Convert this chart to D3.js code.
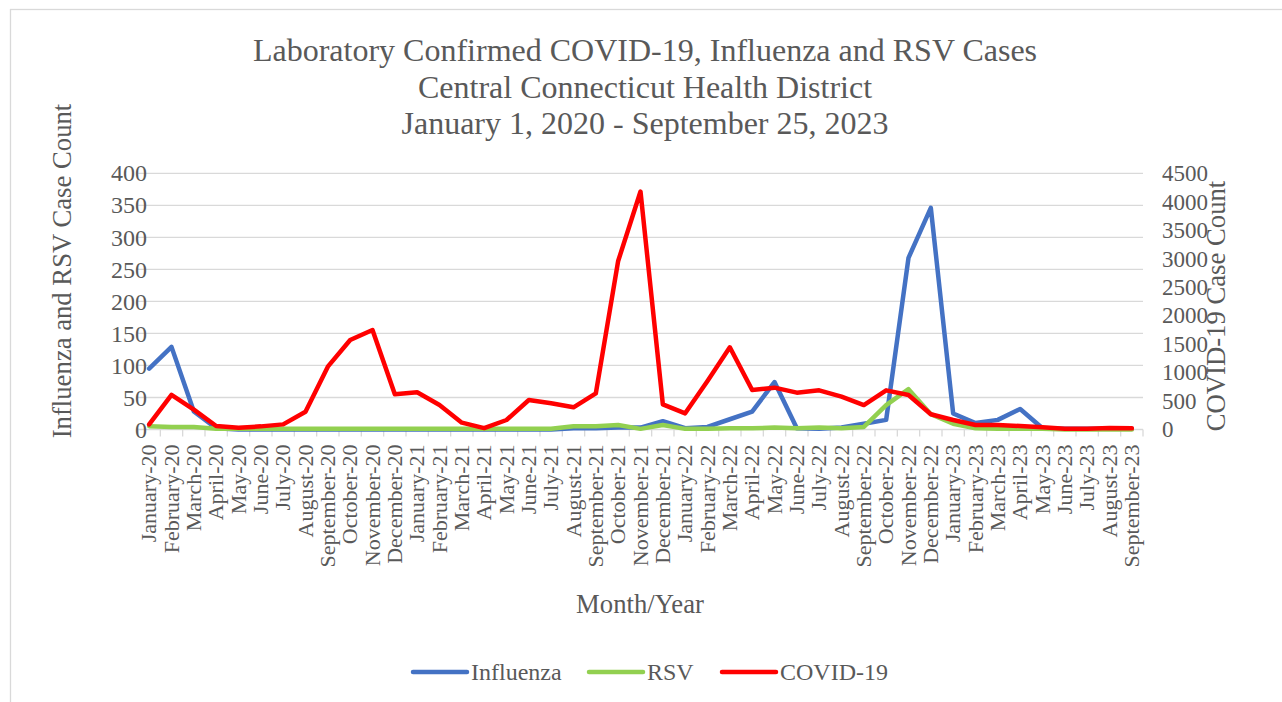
<!DOCTYPE html>
<html>
<head>
<meta charset="utf-8">
<script src="https://cdn.jsdelivr.net/npm/d3@7"></script>
<style>
  body { margin: 0; background: #fff; }
  svg text { font-family: "Liberation Serif", "Times New Roman", serif; fill: #595959; }
</style>
</head>
<body>
<svg id="chart" width="1282" height="702" font-family="Liberation Serif, Times New Roman, serif"></svg>
<script>
const months = [
  'January-20', 'February-20', 'March-20', 'April-20', 'May-20', 'June-20', 'July-20', 'August-20',
  'September-20', 'October-20', 'November-20', 'December-20',
  'January-21', 'February-21', 'March-21', 'April-21', 'May-21', 'June-21', 'July-21', 'August-21',
  'September-21', 'October-21', 'November-21', 'December-21',
  'January-22', 'February-22', 'March-22', 'April-22', 'May-22', 'June-22', 'July-22', 'August-22',
  'September-22', 'October-22', 'November-22', 'December-22',
  'January-23', 'February-23', 'March-23', 'April-23', 'May-23', 'June-23', 'July-23', 'August-23',
  'September-23'
];

const influenza = [
  95, 129, 28, 2, 0, 0, 0, 0, 0, 0, 0, 0,
  0, 0, 0, 0, 0, 0, 0, 2, 2, 3, 3, 13,
  2, 4, 16, 28, 74, 2, 1, 3, 9, 15, 268, 346,
  25, 10, 15, 32, 2, 1, 1, 1, 1
];

const rsv = [
  5, 4, 4, 1, 1, 1, 1, 1, 1, 1, 1, 1,
  1, 1, 1, 1, 1, 1, 1, 5, 5, 7, 1, 7,
  1, 1, 2, 2, 3, 2, 3, 2, 4, 38, 63, 24,
  9, 2, 1, 1, 1, 0, 0, 0, 0
];

const covid = [
  90, 610, 350, 61, 32, 55, 90, 313, 1104, 1572, 1748, 618,
  653, 430, 120, 25, 167, 518, 460, 390, 636, 2960, 4180, 442,
  284, 852, 1444, 694, 735, 647, 688, 577, 430, 688, 606, 267,
  167, 79, 79, 61, 38, 15, 15, 26, 20
];

const leftTicks = d3.range(0, 401, 50);
const rightTicks = d3.range(0, 4501, 500);

const titleLines = [
  'Laboratory Confirmed COVID-19, Influenza and RSV Cases',
  'Central Connecticut Health District',
  'January 1, 2020 - September 25, 2023'
];

const series = [
  { name: 'Influenza', values: influenza, color: '#4472C4', axis: 'left' },
  { name: 'RSV', values: rsv, color: '#92D050', axis: 'left' },
  { name: 'COVID-19', values: covid, color: '#FF0000', axis: 'right' }
];

const FONT = '"Liberation Serif", "Times New Roman", serif';
const svg = d3.select('#chart');
const plot = { left: 138, right: 1143, top: 173.3, bottom: 429.5 };

// chart border
svg.append('rect')
  .attr('x', 10.5).attr('y', 9.5)
  .attr('width', 1300).attr('height', 720)
  .attr('fill', 'none')
  .attr('stroke', '#d9d9d9')
  .attr('stroke-width', 1.3);

const x = d3.scaleBand()
  .domain(months)
  .range([plot.left, plot.right]);

const yLeft = d3.scaleLinear()
  .domain([0, 400])
  .range([plot.bottom, plot.top]);

const yRight = d3.scaleLinear()
  .domain([0, 4500])
  .range([plot.bottom, plot.top]);

const label = (sel, size) => sel
  .style('font-family', FONT)
  .style('font-size', size)
  .style('fill', '#595959');

// gridlines
svg.append('g')
  .attr('class', 'grid')
  .selectAll('line')
  .data(leftTicks)
  .join('line')
  .attr('x1', plot.left).attr('x2', plot.right)
  .attr('y1', d => yLeft(d)).attr('y2', d => yLeft(d))
  .attr('stroke', '#d9d9d9')
  .attr('stroke-width', 1.3);

// x axis with tick marks between categories
const xAxis = svg.append('g')
  .attr('class', 'xAxis')
  .attr('transform', `translate(0,${plot.bottom})`);

xAxis.selectAll('line.tick')
  .data(d3.range(months.length + 1))
  .join('line')
  .attr('class', 'tick')
  .attr('x1', i => plot.left + i * x.step())
  .attr('x2', i => plot.left + i * x.step())
  .attr('y1', 0).attr('y2', 7)
  .attr('stroke', '#d9d9d9')
  .attr('stroke-width', 1.3);

xAxis.selectAll('text')
  .data(months)
  .join('text')
  .attr('transform', d => `translate(${x(d) + x.bandwidth() / 2}, 15) rotate(-90)`)
  .attr('dy', '0.33em')
  .attr('text-anchor', 'end')
  .call(label, '22px')
  .text(d => d);

// y axes labels
svg.append('g')
  .attr('class', 'yLeftAxis')
  .selectAll('text')
  .data(leftTicks)
  .join('text')
  .attr('x', 147)
  .attr('y', d => yLeft(d))
  .attr('dy', '0.34em')
  .attr('text-anchor', 'end')
  .call(label, '24px')
  .text(d => d);

svg.append('g')
  .attr('class', 'yRightAxis')
  .selectAll('text')
  .data(rightTicks)
  .join('text')
  .attr('x', 1162)
  .attr('y', d => yRight(d))
  .attr('dy', '0.34em')
  .attr('text-anchor', 'start')
  .call(label, '23px')
  .text(d => d);

// lines
const line = scale => d3.line()
  .x((d, i) => x(months[i]) + x.bandwidth() / 2)
  .y(d => scale(d));

svg.append('g')
  .attr('class', 'series')
  .selectAll('path')
  .data(series)
  .join('path')
  .attr('fill', 'none')
  .attr('stroke', d => d.color)
  .attr('stroke-width', 4.5)
  .attr('stroke-linejoin', 'round')
  .attr('stroke-linecap', 'round')
  .attr('d', d => line(d.axis === 'left' ? yLeft : yRight)(d.values));

// titles
svg.append('text')
  .attr('text-anchor', 'middle')
  .call(label, '32px')
  .selectAll('tspan')
  .data(titleLines)
  .join('tspan')
  .attr('x', 645)
  .attr('y', (d, i) => 61 + i * 36.5)
  .text(d => d);

svg.append('text')
  .attr('transform', 'translate(71, 271) rotate(-90)')
  .attr('text-anchor', 'middle')
  .call(label, '26.7px')
  .text('Influenza and RSV Case Count');

svg.append('text')
  .attr('transform', 'translate(1225, 306) rotate(-90)')
  .attr('text-anchor', 'middle')
  .call(label, '26.7px')
  .text('COVID-19 Case Count');

svg.append('text')
  .attr('x', 640)
  .attr('y', 613)
  .attr('text-anchor', 'middle')
  .call(label, '26.7px')
  .text('Month/Year');

// legend
const legendX = [413, 589, 722];
const legend = svg.append('g')
  .attr('class', 'legend')
  .selectAll('g')
  .data(series)
  .join('g')
  .attr('transform', (d, i) => `translate(${legendX[i]}, 672)`);

legend.append('line')
  .attr('x1', 0).attr('x2', 54)
  .attr('stroke', d => d.color)
  .attr('stroke-width', 4.5)
  .attr('stroke-linecap', 'round');

legend.append('text')
  .attr('x', 58)
  .attr('dy', '0.33em')
  .call(label, '24px')
  .text(d => d.name);
</script>
</body>
</html>
